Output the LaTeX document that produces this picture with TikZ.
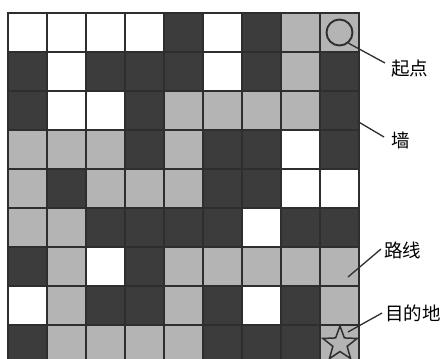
\documentclass[tikz,border=0pt]{standalone}
\usepackage{fontspec}
\newfontfamily\cjk{Noto Sans CJK SC}
\usetikzlibrary{shapes.geometric,calc}
\definecolor{cW}{HTML}{FFFFFF}
\definecolor{cD}{HTML}{3C3C3C}
\definecolor{cG}{HTML}{B4B4B4}
\definecolor{gridc}{HTML}{2E2E2E}
\begin{document}
\begin{tikzpicture}[x=1bp,y=-1bp,
  cellbox/.style={draw=gridc,line width=1.6bp},
  leader/.style={draw=gridc,line width=1.3bp},
  lbl/.style={anchor=west,inner sep=0pt,font=\cjk\fontsize{18.5bp}{18.5bp}\selectfont,text=black}]
\useasboundingbox (0,0) rectangle (445,358);
\fill[white] (0,0) rectangle (445,358);
\begin{scope}
\clip (0,0) rectangle (445,358);
\foreach \r/\row in {
  0/{W,W,W,W,D,W,D,G,G},
  1/{D,W,D,D,D,W,D,G,D},
  2/{D,W,W,D,G,G,G,G,D},
  3/{G,G,G,D,G,D,D,W,D},
  4/{G,D,G,G,G,D,D,W,W},
  5/{G,G,D,D,D,D,W,D,D},
  6/{D,G,W,D,G,G,G,G,G},
  7/{W,G,D,D,G,D,W,D,G},
  8/{D,G,G,G,G,D,D,D,G}}{
  \foreach \cc [count=\c from 0] in \row {
    \path[cellbox,fill=c\cc] ({8+39*\c},{13+39*\r}) rectangle ++(39,39);
  }
}
\end{scope}
% start and goal markers
\node[circle,draw=gridc,line width=1.9bp,minimum size=26bp,inner sep=0pt] (start) at (339.5,32.5) {};
\node[star,star points=5,star point ratio=2.4,draw=gridc,line width=1.5bp,minimum size=36bp,inner sep=0pt] (goal) at (340,344) {};
% anchor points for leaders
\coordinate (wallpt) at (357,121);
\coordinate (pathpt) at (348,277);
\coordinate (goalpt) at (348,332);
% labels
\node[lbl] (lab1) at (391,69) {起点};
\node[lbl] (lab2) at (391,140) {墙};
\node[lbl] (lab3) at (384,250) {路线};
\node[lbl] (lab4) at (385,313) {目的地};
% leaders
\draw[leader] (start.-50) -- ($(lab1.west)+(-6,-6)$);
\draw[leader] (wallpt) -- ($(lab2.west)+(-7,-3)$);
\draw[leader] (pathpt) -- ($(lab3.west)+(-3,-1)$);
\draw[leader] (goalpt) -- ($(lab4.west)+(-3,0)$);
\end{tikzpicture}
\end{document}
